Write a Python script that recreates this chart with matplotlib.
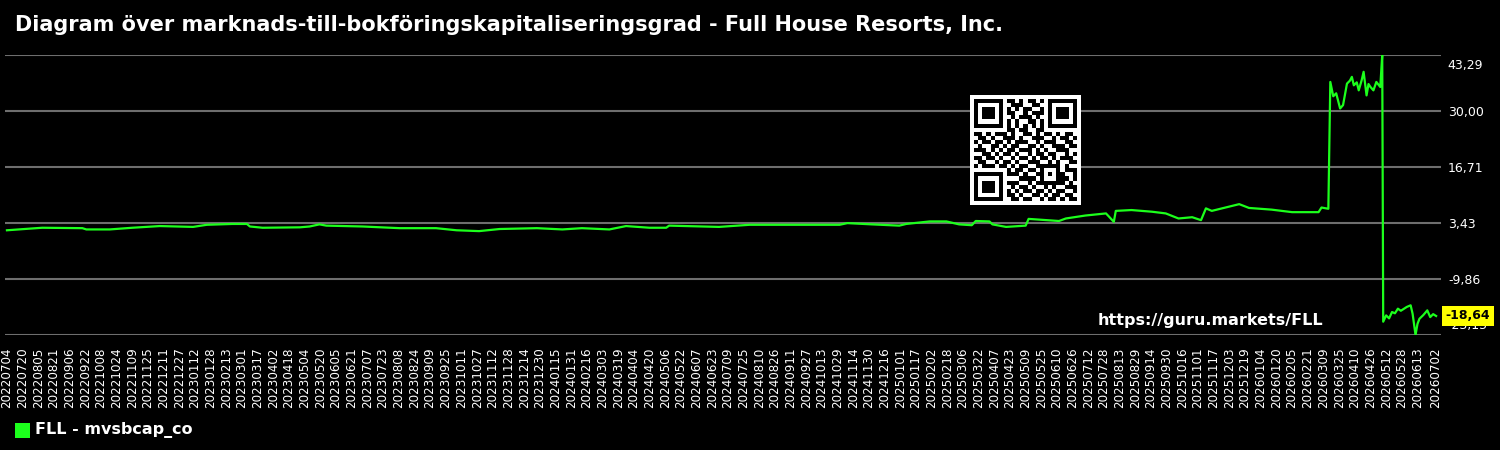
import numpy as np
import pandas as pd
import matplotlib
matplotlib.use("Agg")
from matplotlib import pyplot as plt
from matplotlib.patches import Rectangle

# chart data
dates = ["20220704", "20220809", "20220919", "20220923", "20221017", "20221109",
         "20221207", "20230110", "20230124", "20230219", "20230306", "20230309",
         "20230322", "20230429", "20230509", "20230519", "20230526", "20230702",
         "20230809", "20230915", "20231006", "20231029", "20231119", "20231227",
         "20240122", "20240211", "20240310", "20240327", "20240420", "20240507",
         "20240510", "20240630", "20240731", "20240831", "20241031", "20241108",
         "20241203", "20241231", "20250107", "20250131", "20250217", "20250302",
         "20250315", "20250319", "20250402", "20250405", "20250419", "20250509",
         "20250512", "20250612", "20250619", "20250709", "20250730", "20250807",
         "20250809", "20250825", "20250915", "20250929", "20251012", "20251026",
         "20251104", "20251109", "20251115", "20251213", "20251223", "20260115",
         "20260205", "20260304", "20260307", "20260314", "20260316", "20260319",
         "20260322", "20260326", "20260329", "20260402", "20260405", "20260407",
         "20260409", "20260412", "20260414", "20260417", "20260419", "20260422",
         "20260424", "20260426", "20260429", "20260502", "20260506", "20260508",
         "20260509", "20260512", "20260515", "20260518", "20260521", "20260524",
         "20260527", "20260602", "20260606", "20260608", "20260611", "20260613",
         "20260615", "20260619", "20260623", "20260626", "20260629", "20260702"]
values = [1.7, 2.3, 2.2, 1.9, 1.9, 2.3,
          2.7, 2.5, 3.0, 3.2, 3.2, 2.6,
          2.3, 2.4, 2.6, 3.1, 2.8, 2.6,
          2.2, 2.2, 1.7, 1.5, 2.0, 2.2,
          1.9, 2.2, 1.9, 2.7, 2.3, 2.3,
          2.8, 2.5, 3.0, 3.0, 3.0, 3.4,
          3.1, 2.8, 3.2, 3.8, 3.8, 3.1,
          2.9, 3.9, 3.8, 3.1, 2.5, 2.8,
          4.4, 3.9, 4.5, 5.2, 5.7, 3.7,
          6.3, 6.5, 6.1, 5.7, 4.5, 4.8,
          4.1, 6.9, 6.3, 7.9, 7.0, 6.6,
          6.0, 6.0, 7.1, 6.8, 36.9, 33.5,
          34.2, 30.6, 31.4, 36.5, 37.2, 38.1,
          36.1, 36.8, 34.9, 37.3, 39.3, 33.7,
          36.4, 35.7, 34.9, 36.9, 35.7, 43.29,
          -20.0, -18.5, -19.2, -17.7, -18.0, -16.9,
          -17.4, -16.5, -16.1, -18.1, -23.15, -20.5,
          -19.3, -18.4, -17.3, -18.9, -18.2, -18.64]

y_ticks = [-23.15, -9.86, 3.43, 16.71, 30.00, 43.29]
start_date = "20220704"
end_date = "20260702"
title = "Diagram över marknads-till-bokföringskapitaliseringsgrad - Full House Resorts, Inc."
series_name = "FLL - mvsbcap_co"
watermark = "https://guru.markets/FLL"

# QR code body (finder / timing / alignment patterns are drawn on top in code)
qr_rows = [
    "1111111011010110101111111",
    "1000001001110011001000001",
    "1011101010101100101011101",
    "1011101011001011101011101",
    "1011101001011101001011101",
    "1000001010100110101000001",
    "1111111010101010101111111",
    "0000000011011001100000000",
    "1101011101001101011010110",
    "0110100111010011100101101",
    "1011011010111001011100110",
    "0100110101100110100111011",
    "1110101011011101010011100",
    "0011010110100101101100101",
    "1101101001011010110101110",
    "0110011110100111001010011",
    "1011100101011001111110100",
    "0100111010110110100010111",
    "1101001011101001101011001",
    "0110110100011110110001101",
    "1001011011100101011111010",
    "0111000101011010010100111",
    "1010110110101101101011001",
    "0101101011010011010110110",
    "1100110101101100101101011",
]

green = "#1cff1c"
grid_grey = "#6e6e6e"

x = pd.to_datetime(dates, format="%Y%m%d")
d0 = pd.to_datetime(start_date, format="%Y%m%d")
d1 = pd.to_datetime(end_date, format="%Y%m%d")

fig = plt.figure(figsize=(15, 4.5), dpi=100, facecolor="black")
ax = fig.add_axes([5 / 1500, 1 - 335 / 450, 1436 / 1500, 280 / 450])
ax.set_facecolor("black")

ax.plot(x, values, color=green, linewidth=1.6, zorder=3)

ax.set_ylim(y_ticks[0], y_ticks[-1])
ax.set_xlim(d0 - pd.Timedelta(days=2), d1 + pd.Timedelta(days=5))
for s in ax.spines.values():
    s.set_visible(False)

# middle labels as ticks, the two end labels are nudged inside like the original
ax.set_yticks(y_ticks)
ax.set_yticklabels(["" if i in (0, len(y_ticks) - 1) else f"{v:.2f}".replace(".", ",")
                    for i, v in enumerate(y_ticks)])
ax.yaxis.tick_right()
ax.tick_params(axis="y", length=0, pad=5, colors="white", labelsize=9)
ax.grid(axis="y", color=grid_grey, linewidth=1.5, zorder=1)
for v, dy in ((y_ticks[-1], -10), (y_ticks[0], 10)):
    ax.annotate(f"{v:.2f}".replace(".", ","), xy=(1, v), xycoords=("axes fraction", "data"),
                xytext=(4.5, dy * 0.72), textcoords="offset points",
                va="center", ha="left", color="white", fontsize=9)

xt = list(pd.date_range(d0, periods=91, freq="16D")) + [d1]
ax.set_xticks(xt)
ax.set_xticklabels([t.strftime("%Y%m%d") for t in xt], rotation=90)
ax.tick_params(axis="x", length=0, pad=9, colors="white", labelsize=8.6)

# last value tag
ax.annotate(f"{values[-1]:.2f}".replace(".", ","), xy=(1.003, values[-1]),
            xycoords=("axes fraction", "data"), va="center", ha="left",
            fontsize=9, fontweight="bold", color="black", zorder=5,
            bbox=dict(boxstyle="square,pad=0.3", fc="#ffff00", ec="none"))

fig.text(15 / 1500, 1 - 25 / 450, title, color="white", fontsize=15,
         fontweight="bold", va="center", ha="left")
fig.text(1098 / 1500, 1 - 320 / 450, watermark, color="white", fontsize=11.5,
         fontweight="bold", va="center", ha="left")

# legend
fig.add_artist(Rectangle((15 / 1500, 1 - 438 / 450), 15 / 1500, 15 / 450,
                         transform=fig.transFigure, facecolor=green, edgecolor="none"))
fig.text(35 / 1500, 1 - 430 / 450, series_name, color="white", fontsize=11.5,
         fontweight="bold", va="center", ha="left")

# QR code
qr = np.array([[int(c) for c in r] for r in qr_rows])
def finder(r, c):
    qr[max(r - 1, 0):r + 8, max(c - 1, 0):c + 8] = 0
    qr[r:r + 7, c:c + 7] = 1
    qr[r + 1:r + 6, c + 1:c + 6] = 0
    qr[r + 2:r + 5, c + 2:c + 5] = 1
finder(0, 0)
finder(0, 18)
finder(18, 0)
for i in range(8, 17):
    qr[6, i] = (i + 1) % 2
    qr[i, 6] = (i + 1) % 2
qr[16:21, 16:21] = 1
qr[17:20, 17:20] = 0
qr[18, 18] = 1
qr = np.pad(qr, 1)
qax = fig.add_axes([970 / 1500, 1 - 205 / 450, 110 / 1500, 110 / 450])
qax.imshow(1 - qr, cmap="gray", vmin=0, vmax=1, aspect="auto", interpolation="nearest")
qax.set_axis_off()

plt.savefig("out.png", dpi=100, facecolor="black")
